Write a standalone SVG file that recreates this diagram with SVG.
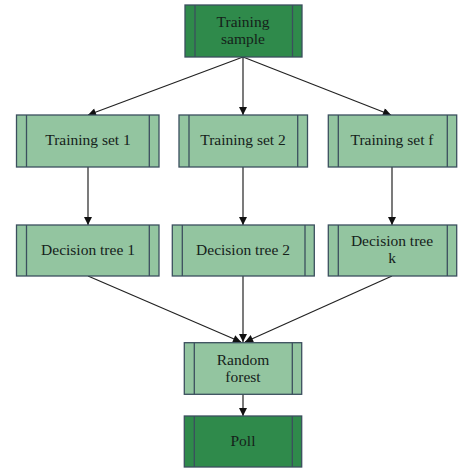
<svg xmlns="http://www.w3.org/2000/svg" width="474" height="474" viewBox="0 0 474 474">
<style>
.box{stroke:#3b4f5e;stroke-width:1.3}
.light{fill:#93c5a0}
.dark{fill:#2f8a4b}
.inner{stroke:#3b4f5e;stroke-width:1.3;fill:none}
.t{font-family:"Liberation Serif","Times New Roman",serif;font-size:15.5px;fill:#15221a;text-anchor:middle}
.c{stroke:#222;stroke-width:1.2;fill:none;marker-end:url(#ah)}
</style>
<defs>
<marker id="ah" viewBox="0 0 10 10" refX="10" refY="5" markerWidth="9" markerHeight="8" markerUnits="userSpaceOnUse" orient="auto">
<path d="M0,0 L10,5 L0,10 z" fill="#111"/>
</marker>
</defs>
<rect width="474" height="474" fill="#ffffff"/>
<g id="connectors">
<line class="c" x1="243" y1="57" x2="88" y2="115"/>
<line class="c" x1="243" y1="57" x2="243" y2="115"/>
<line class="c" x1="243" y1="57" x2="391" y2="115"/>
<line class="c" x1="88" y1="167" x2="88" y2="225"/>
<line class="c" x1="243" y1="167" x2="243" y2="225"/>
<line class="c" x1="392" y1="167" x2="392" y2="225"/>
<line class="c" x1="88" y1="276" x2="241" y2="342"/>
<line class="c" x1="243" y1="276" x2="243" y2="342"/>
<line class="c" x1="392" y1="276" x2="245" y2="342"/>
<line class="c" x1="243" y1="394" x2="243" y2="416"/>
</g>
<g id="training-sample">
<rect class="box dark" x="185" y="5" width="117" height="52"/>
<line class="inner" x1="195" y1="5" x2="195" y2="57"/>
<line class="inner" x1="292.5" y1="5" x2="292.5" y2="57"/>
<text class="t" x="243" y="27">Training</text>
<text class="t" x="243" y="44">sample</text>
</g>
<g id="training-set-1">
<rect class="box light" x="16.5" y="115" width="142.5" height="52"/>
<line class="inner" x1="26.5" y1="115" x2="26.5" y2="167"/>
<line class="inner" x1="149.3" y1="115" x2="149.3" y2="167"/>
<text class="t" x="88" y="145">Training set 1</text>
</g>
<g id="training-set-2">
<rect class="box light" x="179" y="115" width="128.5" height="52"/>
<line class="inner" x1="189" y1="115" x2="189" y2="167"/>
<line class="inner" x1="297.7" y1="115" x2="297.7" y2="167"/>
<text class="t" x="243" y="145">Training set 2</text>
</g>
<g id="training-set-f">
<rect class="box light" x="328.3" y="115" width="128.4" height="52"/>
<line class="inner" x1="338.3" y1="115" x2="338.3" y2="167"/>
<line class="inner" x1="447.3" y1="115" x2="447.3" y2="167"/>
<text class="t" x="392" y="145">Training set f</text>
</g>
<g id="decision-tree-1">
<rect class="box light" x="16.5" y="225" width="142.5" height="51"/>
<line class="inner" x1="26.5" y1="225" x2="26.5" y2="276"/>
<line class="inner" x1="149.3" y1="225" x2="149.3" y2="276"/>
<text class="t" x="88" y="255">Decision tree 1</text>
</g>
<g id="decision-tree-2">
<rect class="box light" x="172.3" y="225" width="142" height="51"/>
<line class="inner" x1="182.3" y1="225" x2="182.3" y2="276"/>
<line class="inner" x1="305" y1="225" x2="305" y2="276"/>
<text class="t" x="243" y="255">Decision tree 2</text>
</g>
<g id="decision-tree-k">
<rect class="box light" x="328.3" y="225" width="128.4" height="51"/>
<line class="inner" x1="338.3" y1="225" x2="338.3" y2="276"/>
<line class="inner" x1="447.3" y1="225" x2="447.3" y2="276"/>
<text class="t" x="392" y="246">Decision tree</text>
<text class="t" x="392" y="263">k</text>
</g>
<g id="random-forest">
<rect class="box light" x="184.3" y="342.7" width="117.4" height="51.6"/>
<line class="inner" x1="194.3" y1="342.7" x2="194.3" y2="394.3"/>
<line class="inner" x1="292.3" y1="342.7" x2="292.3" y2="394.3"/>
<text class="t" x="243" y="365">Random</text>
<text class="t" x="243" y="382">forest</text>
</g>
<g id="poll">
<rect class="box dark" x="184.3" y="416" width="117.4" height="51"/>
<line class="inner" x1="194.3" y1="416" x2="194.3" y2="467"/>
<line class="inner" x1="292.3" y1="416" x2="292.3" y2="467"/>
<text class="t" x="243" y="446">Poll</text>
</g>
</svg>
